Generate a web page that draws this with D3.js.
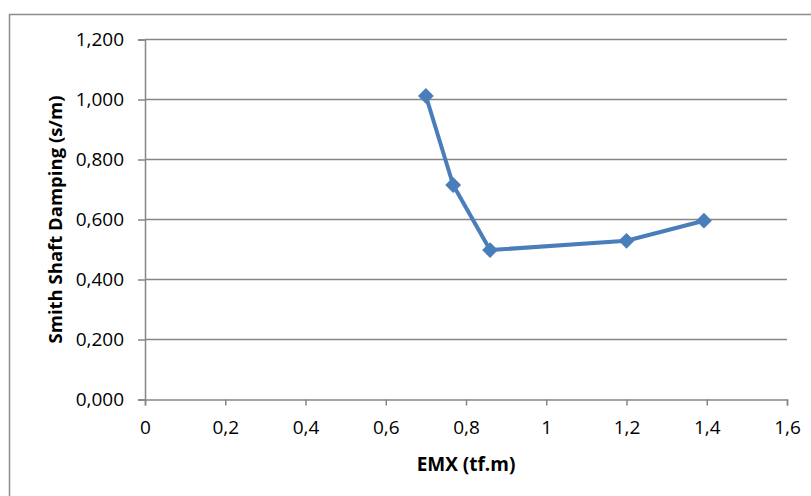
<!DOCTYPE html>
<html>
<head>
<meta charset="utf-8">
<script src="https://cdn.jsdelivr.net/npm/d3@7"></script>
<style>
  html, body { margin: 0; padding: 0; background: #fff; }
  svg { display: block; }
  text { font-family: "Open Sans", Lato, sans-serif; fill: #000; }
</style>
</head>
<body>
<svg id="chart" width="811" height="496"></svg>
<script>
// EMX (tf.m) readings and the matching Smith shaft damping (s/m)
const emx = [0.70, 0.768, 0.86, 1.20, 1.393];
const damping = [1.012, 0.715, 0.498, 0.529, 0.596];
const xTicks = [0, 0.2, 0.4, 0.6, 0.8, 1, 1.2, 1.4, 1.6];
const yTicks = [0, 0.2, 0.4, 0.6, 0.8, 1.0, 1.2];
const xTitle = "EMX (tf.m)";
const yTitle = "Smith Shaft Damping (s/m)";

const svg = d3.select("#chart");
const plot = { left: 145, right: 787, top: 39.5, bottom: 399.5 };
const gridColor = "#868686";
const lineColor = "#4a7ebb";

// outer chart frame
svg.append("path")
  .attr("d", "M9.5,496 V14.5 H811")
  .attr("fill", "none").attr("stroke", "#8c8c8c").attr("stroke-width", 1.5);

const x = d3.scaleLinear().domain([0, 1.6]).range([plot.left, plot.right]);
const y = d3.scaleLinear().domain([0, 1.2]).range([plot.bottom, plot.top]);

const commaFmt = (d, digits) => d.toFixed(digits).replace(".", ",");

// horizontal gridlines
svg.append("g").selectAll("line").data(yTicks.filter(d => d > 0)).join("line")
  .attr("x1", plot.left).attr("x2", plot.right)
  .attr("y1", d => y(d)).attr("y2", d => y(d))
  .attr("stroke", gridColor).attr("stroke-width", 1.5);

// y axis
const yAxis = svg.append("g").attr("transform", `translate(${plot.left},0)`)
  .call(d3.axisLeft(y).tickValues(yTicks).tickSize(7).tickPadding(14)
    .tickFormat(d => commaFmt(d, 3)));
yAxis.select(".domain").attr("stroke", gridColor).attr("stroke-width", 1.5);
yAxis.selectAll(".tick line").attr("stroke", gridColor).attr("stroke-width", 1.5);
yAxis.selectAll(".tick text").attr("font-size", 19)
  .attr("font-family", "'Open Sans', Lato, sans-serif").attr("fill", "#000");

// x axis
const xAxis = svg.append("g").attr("transform", `translate(0,${plot.bottom})`)
  .call(d3.axisBottom(x).tickValues(xTicks).tickSize(6).tickPadding(15)
    .tickFormat(d => d === 0 || d === 1 ? String(d) : commaFmt(d, 1)));
xAxis.select(".domain").attr("stroke", gridColor).attr("stroke-width", 1.5);
xAxis.selectAll(".tick line").attr("stroke", gridColor).attr("stroke-width", 1.5);
xAxis.selectAll(".tick text").attr("font-size", 19)
  .attr("font-family", "'Open Sans', Lato, sans-serif").attr("fill", "#000");

// axis titles
svg.append("text")
  .attr("x", (plot.left + plot.right) / 2).attr("y", 471)
  .attr("text-anchor", "middle").attr("font-size", 19).attr("font-weight", "bold")
  .text(xTitle);
svg.append("text")
  .attr("transform", `translate(62,${(plot.top + plot.bottom) / 2}) rotate(-90)`)
  .attr("text-anchor", "middle").attr("font-size", 18.5).attr("font-weight", "bold")
  .text(yTitle);

// data line
const pts = emx.map((v, i) => [v, damping[i]]);
svg.append("path")
  .datum(pts)
  .attr("fill", "none").attr("stroke", lineColor).attr("stroke-width", 4)
  .attr("stroke-linejoin", "round")
  .attr("d", d3.line().x(d => x(d[0])).y(d => y(d[1])));

// diamond markers
svg.append("g").selectAll("path").data(pts).join("path")
  .attr("transform", d => `translate(${x(d[0])},${y(d[1])})`)
  .attr("d", d3.symbol(d3.symbolDiamond2, 160))
  .attr("fill", lineColor);
</script>
</body>
</html>
